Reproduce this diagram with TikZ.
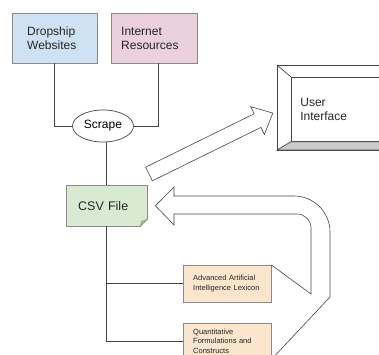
\documentclass[tikz,border=0pt]{standalone}
\usepackage{fontspec}
\setmainfont{Liberation Sans}
\usepackage{tikz}
\definecolor{blue100}{HTML}{CFE2F3}
\definecolor{pink100}{HTML}{EAD1DC}
\definecolor{green100}{HTML}{D9EAD3}
\definecolor{green300}{HTML}{A9C4A0}
\definecolor{orange100}{HTML}{FCE5CD}
\definecolor{gray400}{HTML}{CCCCCC}
\definecolor{gray600}{HTML}{8A8A8A}
\definecolor{gray800}{HTML}{444444}
\usetikzlibrary{calc, shapes.geometric}
\tikzstyle{source}=[rectangle, draw=gray600, anchor=north west, align=left, minimum height=50pt, text=black!85, font=\fontsize{12}{13.5}\selectfont]
\tikzstyle{lexbox}=[rectangle, draw=gray600, fill=orange100, anchor=north west, align=left, inner xsep=10pt, text width=68pt, text=black!85, font=\fontsize{7.5}{9.3}\selectfont]
\tikzstyle{link}=[draw=gray800, line width=0.7pt]
\tikzstyle{blockarrow}=[draw=gray800, line width=0.6pt, line join=miter]

\begin{document}
\begin{tikzpicture}[x=1pt, y=-1pt]
	\useasboundingbox (0,0) rectangle (379,354);
	\clip (0,0) rectangle (379,354);
	% sources
	\node[source, fill=blue100, inner xsep=15pt, text width=55pt] (drop) at (12,13) {Dropship\\Websites};
	\node[source, fill=pink100, inner xsep=10pt, text width=66pt] (inet) at (111,13) {Internet\\Resources};
	\node[ellipse, draw=gray800, line width=0.7pt, minimum width=61pt, minimum height=32pt, inner sep=0pt, font=\fontsize{12}{13.5}\selectfont] (scrape) at (103,126) {Scrape};
	% csv file with folded corner
	\node[source, fill=green100, minimum height=41pt, inner xsep=12pt, text width=57pt, font=\fontsize{12.5}{14}\selectfont] (csv) at (66,185) {CSV File};
	\fill[white] ($(csv.south east)+(-7,0.4)$) -- ($(csv.south east)+(0.4,0.4)$) -- ($(csv.south east)+(0.4,-7)$) -- cycle;
	\filldraw[fill=green300, draw=gray600, line width=0.5pt] ($(csv.south east)+(-7,0)$) -- ($(csv.south east)+(0,-7)$) -- ($(csv.south east)+(-6,-5)$) -- cycle;
	% lexicon boxes
	\node[lexbox, minimum height=37pt] (lex) at (183,265) {Advanced Artificial\\Intelligence Lexicon};
	\node[lexbox, minimum height=36pt] (quant) at (183,323) {Quantitative\\Formulations and\\Constructs};
	% user interface
	\filldraw[fill=white, draw=gray800, line width=0.7pt] (277,65) rectangle (400,150);
	\node[rectangle, draw=gray800, line width=0.7pt, fill=white, anchor=north west, align=left, minimum height=64pt, inner xsep=9pt, text width=92pt, text=black!85, font=\fontsize{12}{13.5}\selectfont] (ui) at (291,77) {User\\Interface};
	\filldraw[fill=gray400, draw=gray800, line width=0.7pt] (ui.south west) -- (277,150) -- (400,150) -- (ui.south east) -- cycle;
	\draw[gray800, line width=0.7pt] (277,65) -- (ui.north west);
	% connectors
	\draw[link] (drop.south) |- (scrape.west);
	\draw[link] ($(inet.south)+(4,0)$) |- (scrape.east);
	\draw[link] (csv.north) -- (csv.north |- scrape.south);
	\draw[link] (csv.south) |- (quant.west);
	\draw[link] (lex.west) -| (csv.south);
	% block arrows
	\begin{scope}[shift={(149,174)}, rotate=26.2]
		\draw[blockarrow] (0,-7.6) -- (121,-7.6) -- (121,-15.5) -- (138,0) -- (121,15.5) -- (121,7.6) -- (0,7.6) -- cycle;
	\end{scope}
	\coordinate (tip) at ($(csv.east)+(8,0)$);
	\draw[blockarrow] (lex.north east) -- (311,294) -- (311,228) arc[start angle=0, end angle=-90, radius=14] -- (174,214) -- (174,225) -- (tip) -- (174,187) -- (174,196) -- (294,196) arc[start angle=-90, end angle=0, radius=36] -- (330,297) -- (quant.south east);
\end{tikzpicture}
\end{document}
